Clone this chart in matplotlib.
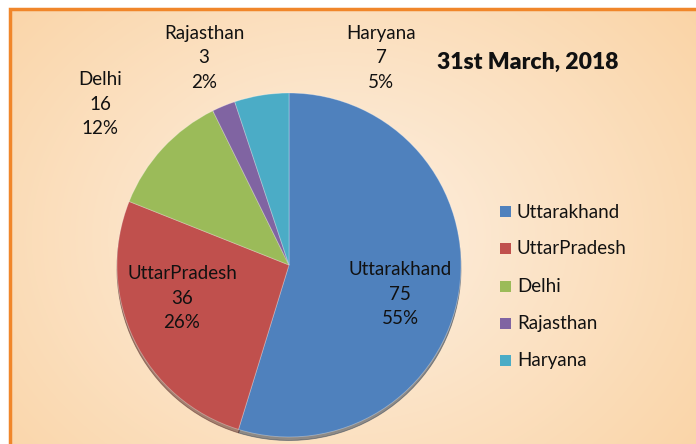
import numpy as np
import matplotlib
matplotlib.use("Agg")
import matplotlib.pyplot as plt
from matplotlib.patches import Rectangle

# dados
states = ["Uttarakhand", "UttarPradesh", "Delhi", "Rajasthan", "Haryana"]
counts = [75, 36, 16, 3, 7]
pcts = ["55%", "26%", "12%", "2%", "5%"]
colors = ["#4F81BD", "#C0504D", "#9BBB59", "#8064A2", "#4BACC6"]
title = "31st March, 2018"

plt.rcParams['font.family'] = ['Lato', 'DejaVu Sans']

W, H = 696, 444
fig = plt.figure(figsize=(W / 100, H / 100), dpi=100)
ax = fig.add_axes([0, 0, 1, 1])

# fundo com degrade
yy, xx = np.mgrid[0:H, 0:W]
d = np.sqrt(((xx - 330) / 520.0) ** 2 + ((yy - 230) / 420.0) ** 2)
d = np.clip(d / d.max(), 0, 1)
c_in = np.array([253, 240, 226]) / 255.0
c_out = np.array([250, 212, 166]) / 255.0
img = c_in[None, None, :] * (1 - d[..., None]) + c_out[None, None, :] * d[..., None]
ax.imshow(img, extent=(10, W + 5, -5, H - 10), origin='upper', zorder=0)

# borda laranja
ax.add_patch(Rectangle((9.5, -10), W + 20, H - 9.5 + 10, fill=False,
                       edgecolor="#F0862A", linewidth=2.5, zorder=1))

# pizza
cx, cy, r = 289, H - 265, 172
ax.pie(counts, colors=colors, startangle=90, counterclock=False,
       center=(cx, cy), radius=r, frame=True,
       wedgeprops=dict(edgecolor='#ffffff55', linewidth=0.6),
       shadow=dict(ox=0, oy=-2.5, shade=0.6))
ax.set_xlim(0, W)
ax.set_ylim(0, H)
ax.set_aspect('equal')
ax.axis('off')

# rotulos
label_pos = [(400, 294), (182, 298), (100, 104), (204, 58), (381, 58)]
for (x, y), s, n, p in zip(label_pos, states, counts, pcts):
    ax.text(x, H - y, f"{s}\n{n}\n{p}", ha='center', va='center',
            fontsize=13.5, linespacing=1.55, color='#111111', zorder=5)

ax.text(528, H - 62, title, ha='center', va='center', fontsize=16.5,
        fontweight='heavy', color='#111111', zorder=5)

# legenda
for i, (s, c) in enumerate(zip(states, colors)):
    y = H - (212 + i * 37)
    ax.add_patch(Rectangle((500, y - 5.5), 11, 11, facecolor=c, edgecolor='none', zorder=5))
    ax.text(517, y, s, ha='left', va='center', fontsize=13.5, color='#111111', zorder=5)

fig.savefig("out.png", dpi=100)
